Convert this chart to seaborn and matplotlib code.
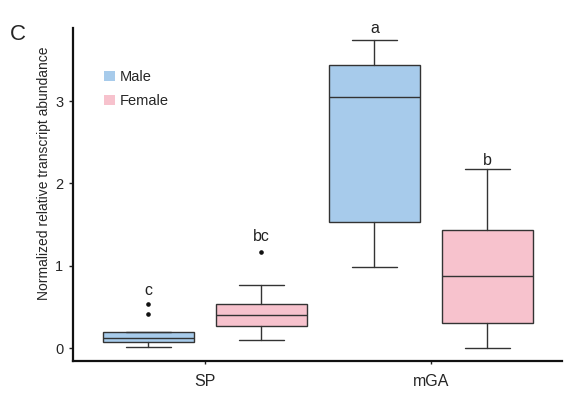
import matplotlib
matplotlib.use("Agg")
import matplotlib.pyplot as plt
from matplotlib.patches import Patch
import seaborn as sns

# Tissues and sexes
tissues = ["SP", "mGA"]
sexes = ["Male", "Female"]
colors = {"Male": "#a7cbeb", "Female": "#f7c2cd"}

# Box summary statistics per (tissue, sex)
whislo = {"SP": [0.01, 0.10], "mGA": [0.98, 0.00]}
q1 = {"SP": [0.07, 0.27], "mGA": [1.535, 0.30]}
med = {"SP": [0.125, 0.40], "mGA": [3.05, 0.88]}
q3 = {"SP": [0.19, 0.53], "mGA": [3.44, 1.44]}
whishi = {"SP": [0.19, 0.765], "mGA": [3.74, 2.17]}
fliers = {"SP": [[0.41, 0.535], [1.17]], "mGA": [[], []]}

# Significance letters and their heights
letters = {"SP": ["c", "bc"], "mGA": ["a", "b"]}
letter_y = {"SP": [0.70, 1.35], "mGA": [3.88, 2.28]}

sns.set_style("ticks")
plt.rcParams["font.family"] = ["Liberation Sans", "DejaVu Sans"]

fig = plt.figure(figsize=(5.66, 4.05), dpi=100)
ax = fig.add_axes([73 / 566, 1 - 361 / 405, (562 - 73) / 566, (361 - 28) / 405])

edge = "#333333"
offsets = [-0.25, 0.25]
for ti, t in enumerate(tissues):
    for si, s in enumerate(sexes):
        stats = [dict(whislo=whislo[t][si], q1=q1[t][si], med=med[t][si],
                      q3=q3[t][si], whishi=whishi[t][si], fliers=fliers[t][si])]
        pos = ti + offsets[si]
        ax.bxp(stats, positions=[pos], widths=0.4, capwidths=0.2,
               patch_artist=True, manage_ticks=False,
               boxprops=dict(facecolor=colors[s], edgecolor=edge, linewidth=1.0),
               medianprops=dict(color=edge, linewidth=1.0),
               whiskerprops=dict(color=edge, linewidth=1.0),
               capprops=dict(color=edge, linewidth=1.0),
               flierprops=dict(marker="o", markersize=2.3, markerfacecolor="#111111",
                               markeredgecolor="#111111"))
        ax.text(pos, letter_y[t][si], letters[t][si], ha="center", va="center",
                fontsize=11.5, color="#222222")

ax.set_xlim(-0.584, 1.58)
ax.set_ylim(-0.158, 3.89)
ax.set_xticks(range(len(tissues)))
ax.set_xticklabels(tissues, fontsize=11.5)
ax.set_yticks([0, 1, 2, 3])
ax.set_yticklabels(["0", "1", "2", "3"], fontsize=10.5)
ax.tick_params(axis="y", length=3, width=1, pad=4, color="#222222")
ax.tick_params(axis="x", length=2, width=1, pad=7, color="#222222")
ax.set_ylabel("Normalized relative transcript abundance", fontsize=10)
ax.yaxis.set_label_coords(-0.045, 0.565)

sns.despine(ax=ax)
for side in ["left", "bottom"]:
    ax.spines[side].set_linewidth(1.6)
    ax.spines[side].set_color("#111111")

handles = [Patch(facecolor=colors[s], edgecolor="none", label=s) for s in sexes]
ax.legend(handles=handles, loc="upper left", bbox_to_anchor=(104 / 566, 1 - 70 / 405),
          bbox_transform=fig.transFigure, frameon=False, borderpad=0, borderaxespad=0,
          handlelength=0.75, handleheight=0.75, handletextpad=0.35, labelspacing=0.7,
          fontsize=10.5)

fig.text(10 / 566, 1 - 35 / 405, "C", fontsize=16, va="center", ha="left")

fig.savefig("out.png", dpi=100)
